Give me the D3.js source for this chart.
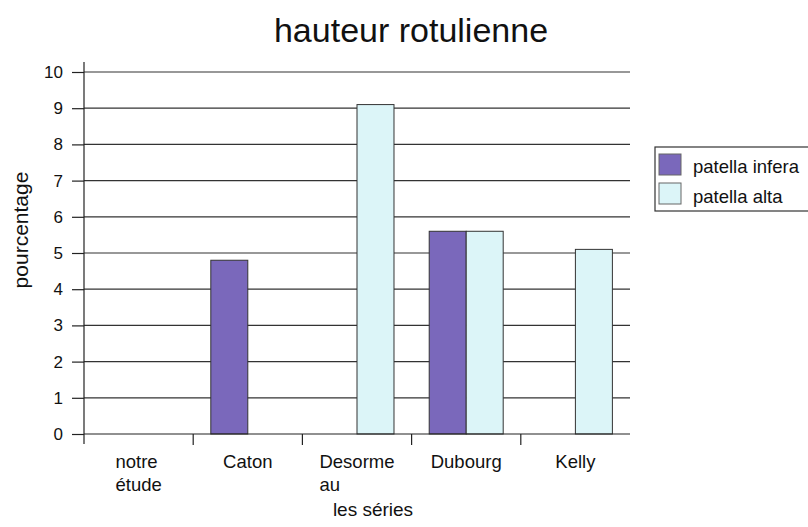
<!DOCTYPE html>
<html>
<head>
<meta charset="utf-8">
<script src="https://cdn.jsdelivr.net/npm/d3@7"></script>
<style>
  body { margin: 0; background: #fff; }
  text { font-family: "Liberation Sans", Arial, sans-serif; fill: #111; }
  .grid line { stroke: #333; stroke-width: 1.2; }
  .axis path, .axis line { stroke: #222; stroke-width: 1.2; }
</style>
</head>
<body>
<svg width="808" height="527"></svg>
<script>
var categories = [["notre", "étude"], ["Caton"], ["Desorme", "au"], ["Dubourg"], ["Kelly"]];
var seriesNames = ["patella infera", "patella alta"];
var infera = [0, 4.8, 0, 5.6, 0];
var alta = [0, 0, 9.1, 5.6, 5.1];
var yTicks = [0, 1, 2, 3, 4, 5, 6, 7, 8, 9, 10];
var colors = ["#7a68bb", "#dcf5f8"];

var svg = d3.select("svg"),
    plotLeft = 84, plotRight = 630, plotTop = 72, plotBottom = 434;

var x = d3.scaleBand()
    .domain(d3.range(categories.length))
    .range([plotLeft, plotRight]);

var inner = d3.scaleBand()
    .domain([0, 1])
    .range([0, x.bandwidth()])
    .paddingOuter(0.476)
    .paddingInner(0);

var y = d3.scaleLinear().domain([0, 10]).range([plotBottom, plotTop]);

// title
svg.append("text")
    .attr("x", 411).attr("y", 42)
    .attr("text-anchor", "middle")
    .style("font-size", "34px")
    .text("hauteur rotulienne");

// gridlines
svg.append("g").attr("class", "grid")
    .selectAll("line")
    .data(yTicks.slice(1))
    .join("line")
    .attr("x1", plotLeft).attr("x2", plotRight)
    .attr("y1", function(d) { return y(d); })
    .attr("y2", function(d) { return y(d); });

// bars
var series = [infera, alta];
series.forEach(function(vals, s) {
    svg.append("g").selectAll("rect")
        .data(vals.map(function(v, i) { return {i: i, v: v}; }).filter(function(d) { return d.v > 0; }))
        .join("rect")
        .attr("x", function(d) { return x(d.i) + inner(s); })
        .attr("width", inner.bandwidth())
        .attr("y", function(d) { return y(d.v); })
        .attr("height", function(d) { return y(0) - y(d.v); })
        .attr("fill", colors[s])
        .attr("stroke", "#333")
        .attr("stroke-width", 1);
});

// y axis
var yAxis = svg.append("g").attr("class", "axis")
    .attr("transform", "translate(" + plotLeft + ",0)")
    .call(d3.axisLeft(y).tickValues(yTicks).tickSize(12).tickSizeOuter(0).tickPadding(9));
yAxis.selectAll("text").style("font-size", "17px");
yAxis.select(".domain").attr("d", "M0," + (plotBottom + 10) + "V" + (plotTop - 10));

// x axis: ticks at category boundaries
var xg = svg.append("g").attr("class", "axis");
xg.append("line")
    .attr("x1", plotLeft).attr("x2", plotRight)
    .attr("y1", plotBottom).attr("y2", plotBottom);
xg.selectAll(".bt")
    .data(d3.range(1, categories.length))
    .join("line")
    .attr("class", "bt")
    .attr("x1", function(d) { return x(d); })
    .attr("x2", function(d) { return x(d); })
    .attr("y1", plotBottom).attr("y2", plotBottom + 11);

// category labels: lines left aligned, block centred on the band
categories.forEach(function(lines, i) {
    var t = svg.append("text").style("font-size", "18.5px");
    lines.forEach(function(l, k) {
        t.append("tspan").attr("x", 0).attr("dy", k === 0 ? 0 : 23).text(l);
    });
    var w = d3.max(t.selectAll("tspan").nodes(), function(n) { return n.getComputedTextLength(); });
    var cx = x(i) + x.bandwidth() / 2;
    t.attr("transform", "translate(" + (cx - w / 2) + "," + 468 + ")");
});

// axis titles
svg.append("text")
    .attr("x", 373).attr("y", 516)
    .attr("text-anchor", "middle")
    .style("font-size", "19px")
    .text("les séries");

svg.append("text")
    .attr("transform", "translate(28,230) rotate(-90)")
    .attr("text-anchor", "middle")
    .style("font-size", "21px")
    .text("pourcentage");

// legend
var lg = svg.append("g").attr("transform", "translate(655,147)");
lg.append("rect")
    .attr("width", 170).attr("height", 64)
    .attr("fill", "#fff").attr("stroke", "#333").attr("stroke-width", 1.2);
seriesNames.forEach(function(n, k) {
    lg.append("rect")
        .attr("x", 4).attr("y", 7 + k * 29)
        .attr("width", 22).attr("height", 21)
        .attr("fill", colors[k]).attr("stroke", "#666");
    lg.append("text")
        .attr("x", 38).attr("y", 26 + k * 30)
        .style("font-size", "18.5px")
        .text(n);
});
</script>
</body>
</html>
